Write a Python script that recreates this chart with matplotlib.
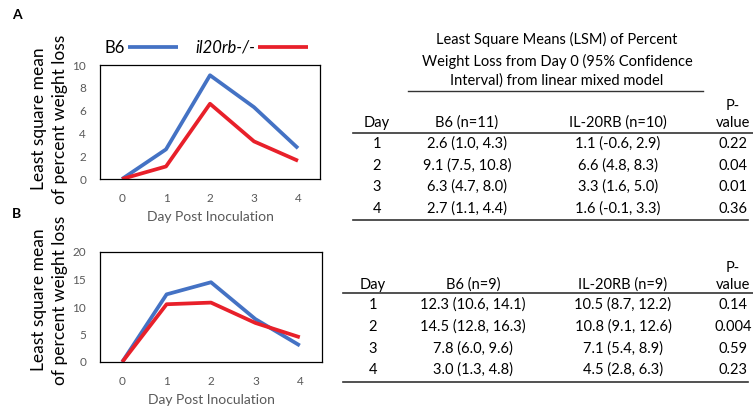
import matplotlib
matplotlib.use('Agg')
import matplotlib.pyplot as plt
from matplotlib.lines import Line2D

plt.rcParams['font.family'] = ['Lato', 'DejaVu Sans']

# ---- data ----
days = [0, 1, 2, 3, 4]
a_b6 = [0, 2.6, 9.1, 6.3, 2.7]
a_ko = [0, 1.1, 6.6, 3.3, 1.6]
b_b6 = [0, 12.3, 14.5, 7.8, 3.0]
b_ko = [0, 10.5, 10.8, 7.1, 4.5]

tab_days = ['1', '2', '3', '4']
a_b6_ci = ['2.6 (1.0, 4.3)', '9.1 (7.5, 10.8)', '6.3 (4.7, 8.0)', '2.7 (1.1, 4.4)']
a_ko_ci = ['1.1 (-0.6, 2.9)', '6.6 (4.8, 8.3)', '3.3 (1.6, 5.0)', '1.6 (-0.1, 3.3)']
a_p = ['0.22', '0.04', '0.01', '0.36']
b_b6_ci = ['12.3 (10.6, 14.1)', '14.5 (12.8, 16.3)', '7.8 (6.0, 9.6)', '3.0 (1.3, 4.8)']
b_ko_ci = ['10.5 (8.7, 12.2)', '10.8 (9.1, 12.6)', '7.1 (5.4, 8.9)', '4.5 (2.8, 6.3)']
b_p = ['0.14', '0.004', '0.59', '0.23']

BLUE = '#4472C4'
RED = '#E8202A'
GRAY = '#595959'

W, H = 753, 413
fig = plt.figure(figsize=(W / 100, H / 100), dpi=100)


def fx(x):
    return x / W


def fy(y):
    return 1 - y / H


def make_axes(left, top, right, bottom, ymax, ystep, b6, ko):
    ax = fig.add_axes([fx(left), fy(bottom), (right - left) / W, (bottom - top) / H])
    l1, = ax.plot(days, b6, color=BLUE, lw=2.7, solid_capstyle='butt')
    l2, = ax.plot(days, ko, color=RED, lw=2.7, solid_capstyle='butt')
    ax.set_xlim(-0.5, 4.5)
    ax.set_ylim(0, ymax)
    ax.set_xticks(days)
    ax.set_yticks(range(0, ymax + 1, ystep))
    ax.tick_params(length=0, labelsize=8.5, colors=GRAY, pad=10)
    for s in ax.spines.values():
        s.set_linewidth(0.9)
        s.set_color('black')
    ax.set_xlabel('Day Post Inoculation', fontsize=10, color=GRAY, labelpad=5)
    return ax, l1, l2


axA, la1, la2 = make_axes(100, 65, 320, 179, 10, 2, a_b6, a_ko)
axB, lb1, lb2 = make_axes(100, 252, 322, 362, 20, 5, b_b6, b_ko)

leg = axA.legend([la1, la2], ['B6', 'il20rb-/-'], ncol=2, frameon=False,
                 markerfirst=False, handlelength=3.0, handletextpad=0.2,
                 columnspacing=1.0, fontsize=12,
                 loc='lower left', bbox_to_anchor=(-0.02, 1.0), borderaxespad=0.15)
leg.get_texts()[1].set_style('italic')

for ycen in (119, 300):
    fig.text(fx(39), fy(ycen), 'Least square mean', rotation=90, fontsize=12.5,
             ha='center', va='center')
    fig.text(fx(60), fy(ycen), 'of percent weight loss', rotation=90, fontsize=12.5,
             ha='center', va='center')

fig.text(fx(12), fy(15), 'A', fontsize=10, fontweight='bold', ha='left', va='center')
fig.text(fx(12), fy(214), 'B', fontsize=10, fontweight='bold', ha='left', va='center')


def hline(x0, x1, y, lw=1.2):
    fig.add_artist(Line2D([fx(x0), fx(x1)], [fy(y), fy(y)], color='#333333', lw=lw))


cols = [377, 467, 618, 733]
ts = 10.5


def table(head_y, rows_y, b6_label, ko_label, b6_vals, ko_vals, pvals, line_x0, top_line, bot_line):
    fig.text(fx(cols[3]), fy(head_y - 17), 'P-', fontsize=ts, ha='center', va='center')
    for x, t in zip(cols, ['Day', b6_label, ko_label, 'value']):
        fig.text(fx(x), fy(head_y), t, fontsize=ts, ha='center', va='center')
    hline(line_x0, 753, top_line)
    for i, y in enumerate(rows_y):
        vals = [tab_days[i], b6_vals[i], ko_vals[i], pvals[i]]
        for x, t in zip(cols, vals):
            fig.text(fx(x), fy(y), t, fontsize=ts, ha='center', va='center')
    hline(line_x0, 748, bot_line)


# table A title
for y, t in zip([39, 61, 81], ['Least Square Means (LSM) of Percent',
                               'Weight Loss from Day 0 (95% Confidence',
                               'Interval) from linear mixed model']):
    fig.text(fx(557), fy(y), t, fontsize=ts, ha='center', va='center')
hline(408, 703, 91, lw=1.0)

table(123, [144, 166, 187, 209], 'B6 (n=11)', 'IL-20RB (n=10)',
      a_b6_ci, a_ko_ci, a_p, 353, 133, 220)
cols = [373, 473, 623, 733]
table(285, [305, 327, 349, 370], 'B6 (n=9)', 'IL-20RB (n=9)',
      b_b6_ci, b_ko_ci, b_p, 343, 293, 382)

fig.savefig('out.png', dpi=100)
